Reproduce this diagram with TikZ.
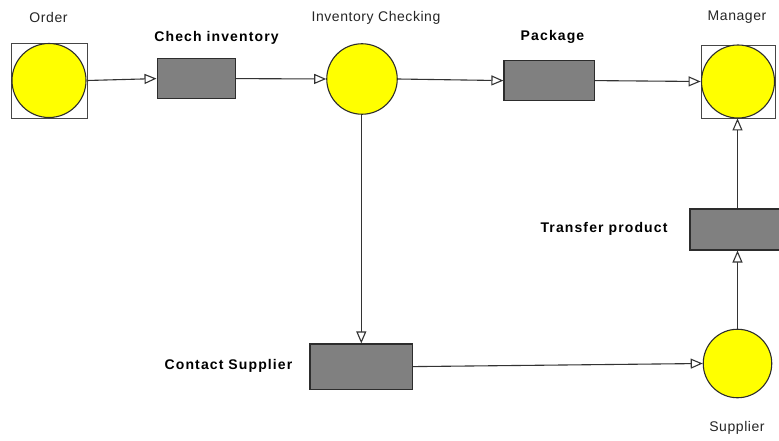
\documentclass[tikz,border=0pt]{standalone}
\usepackage{fontspec}
\setmainfont{Liberation Sans}
\newfontfamily\lblfont[LetterSpace=4]{Liberation Sans}
\newfontfamily\boldlblfont[LetterSpace=8]{Liberation Sans Bold}
\usetikzlibrary{arrows.meta}
\definecolor{circfill}{RGB}{255,255,0}
\definecolor{boxfill}{RGB}{128,128,128}
\definecolor{edgecol}{RGB}{45,45,45}
\definecolor{framecol}{RGB}{70,70,70}
\tikzset{
  place/.style={circle,draw=edgecol,fill=circfill,line width=1.1pt,inner sep=0pt},
  frame/.style={rectangle,draw=framecol,line width=0.8pt,inner sep=0pt},
  taskbox/.style={rectangle,draw=edgecol,fill=boxfill,line width=1.1pt,inner sep=0pt},
  plainlbl/.style={font=\fontsize{14}{16}\lblfont,text=black!85,inner sep=0pt},
  boldlbl/.style={font=\fontsize{14}{16}\boldlblfont,text=black,inner sep=0pt},
  flow/.style={draw=black!80,line width=1.1pt,-{Triangle[open,length=12pt,width=10pt,fill=white]}}
}
\begin{document}
\begin{tikzpicture}[x=1pt,y=-1pt]
\useasboundingbox[fill=white] (0,0) rectangle (779,441);
% Order
\node[frame,minimum width=76pt,minimum height=75pt] (orderbox) at (49,80.5) {};
\node[place,minimum size=74pt] (order) at (49,80.5) {};
\node[plainlbl] (orderlbl) at (48.5,17) {Order};
% Chech inventory
\node[taskbox,minimum width=78.5pt,minimum height=40.5pt] (chech) at (196.3,78.6) {};
\node[boldlbl] (chechlbl) at (216.5,37.5) {Chech inventory};
% Inventory Checking
\node[place,minimum size=70.5pt] (inv) at (362,79) {};
\node[plainlbl] (invlbl) at (376,18) {Inventory Checking};
% Package
\node[taskbox,minimum width=90.5pt,minimum height=40.7pt] (pack) at (549.2,80.6) {};
\node[boldlbl] (packlbl) at (552.5,36.5) {Package};
% Manager
\node[frame,minimum width=74pt,minimum height=73pt] (mgrbox) at (738,81.5) {};
\node[place,minimum size=73pt] (mgr) at (738,81.5) {};
\node[plainlbl] (mgrlbl) at (737,17) {Manager};
% Transfer product
\node[taskbox,minimum width=90pt,minimum height=41pt] (transfer) at (735,229.5) {};
\node[boldlbl] (transferlbl) at (604,229) {Transfer product};
% Contact Supplier
\node[taskbox,minimum width=102.7pt,minimum height=45.3pt] (contact) at (361.3,366.6) {};
\node[boldlbl] (contactlbl) at (228.5,366) {Contact Supplier};
% Supplier
\node[place,minimum size=68.5pt] (sup) at (737.5,363.5) {};
\node[plainlbl] (suplbl) at (737,428) {Supplier};
% connectors
\draw[flow] (orderbox.east) -- (chech.west);
\draw[flow] (chech.east) -- (inv.west);
\draw[flow] (inv.east) -- (pack.west);
\draw[flow] (pack.east) -- (mgrbox.west);
\draw[flow] (inv.south -| contact.north) -- (contact.north);
\draw[flow] (contact.east) -- (sup.west);
\draw[flow] (sup.north) -- (sup.north |- transfer.south);
\draw[flow] (sup.north |- transfer.north) -- (sup.north |- mgrbox.south);
\end{tikzpicture}
\end{document}
